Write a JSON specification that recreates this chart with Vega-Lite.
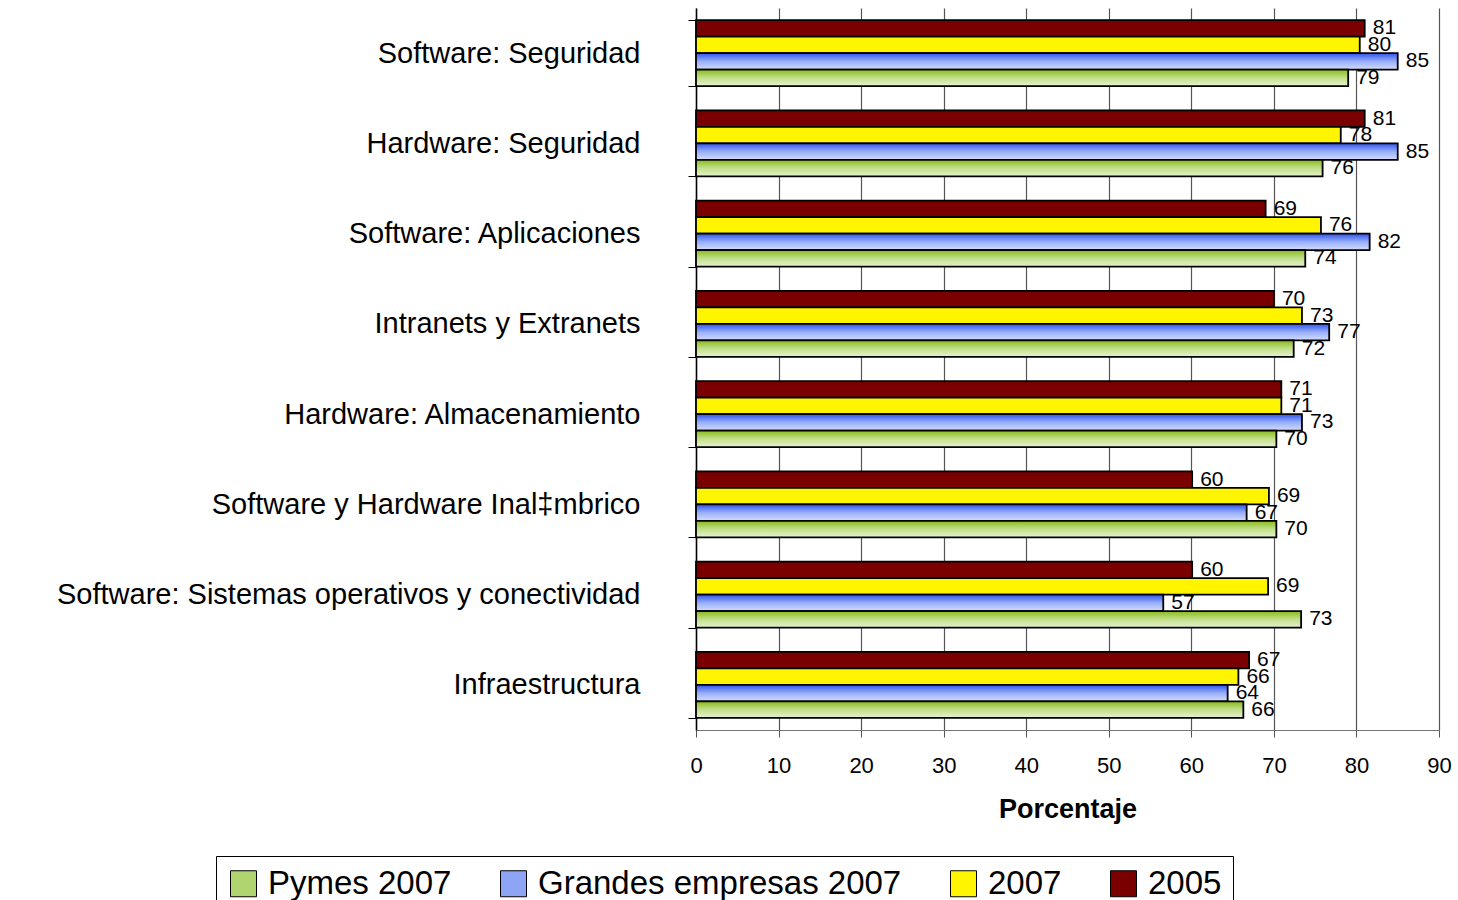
{
  "$schema": "https://vega.github.io/schema/vega-lite/v6.json",
  "width": 743,
  "height": 722,
  "autosize": "none",
  "padding": {"left": 696, "top": 8, "right": 19, "bottom": 170},
  "background": "white",
  "config": {
    "font": "Liberation Sans",
    "view": {"stroke": null},
    "axis": {"labelFont": "Liberation Sans", "titleFont": "Liberation Sans", "labelColor": "black", "titleColor": "black"}
  },
  "data": {
    "values": [
      {"cat": "Software: Seguridad", "serie": "2005", "value": 81.0, "label": "81"},
      {"cat": "Software: Seguridad", "serie": "2007", "value": 80.4, "label": "80"},
      {"cat": "Software: Seguridad", "serie": "Grandes empresas 2007", "value": 85.0, "label": "85"},
      {"cat": "Software: Seguridad", "serie": "Pymes 2007", "value": 79.0, "label": "79"},
      {"cat": "Hardware: Seguridad", "serie": "2005", "value": 81.0, "label": "81"},
      {"cat": "Hardware: Seguridad", "serie": "2007", "value": 78.1, "label": "78"},
      {"cat": "Hardware: Seguridad", "serie": "Grandes empresas 2007", "value": 85.0, "label": "85"},
      {"cat": "Hardware: Seguridad", "serie": "Pymes 2007", "value": 75.9, "label": "76"},
      {"cat": "Software: Aplicaciones", "serie": "2005", "value": 69.0, "label": "69"},
      {"cat": "Software: Aplicaciones", "serie": "2007", "value": 75.7, "label": "76"},
      {"cat": "Software: Aplicaciones", "serie": "Grandes empresas 2007", "value": 81.6, "label": "82"},
      {"cat": "Software: Aplicaciones", "serie": "Pymes 2007", "value": 73.8, "label": "74"},
      {"cat": "Intranets y Extranets", "serie": "2005", "value": 70.0, "label": "70"},
      {"cat": "Intranets y Extranets", "serie": "2007", "value": 73.4, "label": "73"},
      {"cat": "Intranets y Extranets", "serie": "Grandes empresas 2007", "value": 76.7, "label": "77"},
      {"cat": "Intranets y Extranets", "serie": "Pymes 2007", "value": 72.4, "label": "72"},
      {"cat": "Hardware: Almacenamiento", "serie": "2005", "value": 70.9, "label": "71"},
      {"cat": "Hardware: Almacenamiento", "serie": "2007", "value": 70.9, "label": "71"},
      {"cat": "Hardware: Almacenamiento", "serie": "Grandes empresas 2007", "value": 73.4, "label": "73"},
      {"cat": "Hardware: Almacenamiento", "serie": "Pymes 2007", "value": 70.3, "label": "70"},
      {"cat": "Software y Hardware Inal‡mbrico", "serie": "2005", "value": 60.1, "label": "60"},
      {"cat": "Software y Hardware Inal‡mbrico", "serie": "2007", "value": 69.4, "label": "69"},
      {"cat": "Software y Hardware Inal‡mbrico", "serie": "Grandes empresas 2007", "value": 66.7, "label": "67"},
      {"cat": "Software y Hardware Inal‡mbrico", "serie": "Pymes 2007", "value": 70.3, "label": "70"},
      {"cat": "Software: Sistemas operativos y conectividad", "serie": "2005", "value": 60.1, "label": "60"},
      {"cat": "Software: Sistemas operativos y conectividad", "serie": "2007", "value": 69.3, "label": "69"},
      {"cat": "Software: Sistemas operativos y conectividad", "serie": "Grandes empresas 2007", "value": 56.6, "label": "57"},
      {"cat": "Software: Sistemas operativos y conectividad", "serie": "Pymes 2007", "value": 73.3, "label": "73"},
      {"cat": "Infraestructura", "serie": "2005", "value": 67.0, "label": "67"},
      {"cat": "Infraestructura", "serie": "2007", "value": 65.7, "label": "66"},
      {"cat": "Infraestructura", "serie": "Grandes empresas 2007", "value": 64.4, "label": "64"},
      {"cat": "Infraestructura", "serie": "Pymes 2007", "value": 66.3, "label": "66"}
    ]
  },
  "encoding": {
    "y": {
      "field": "cat",
      "type": "nominal",
      "sort": null,
      "scale": {"paddingInner": 0.27, "paddingOuter": 0.135},
      "axis": {
        "title": null,
        "tickBand": "extent",
        "tickSize": 8,
        "tickColor": "black",
        "tickWidth": 1,
        "domainColor": "black",
        "domainWidth": 1.5,
        "labelFontSize": 29,
        "labelPadding": 48,
        "labelLimit": 800,
        "grid": false
      }
    },
    "yOffset": {
      "field": "serie",
      "type": "nominal",
      "sort": ["2005", "2007", "Grandes empresas 2007", "Pymes 2007"],
      "scale": {"domain": ["2005", "2007", "Grandes empresas 2007", "Pymes 2007"], "paddingInner": 0, "paddingOuter": 0}
    },
    "x": {
      "field": "value",
      "type": "quantitative",
      "scale": {"domain": [0, 90], "nice": false},
      "axis": {
        "title": "Porcentaje",
        "titleFontSize": 27,
        "titleFontWeight": "bold",
        "titlePadding": 20,
        "values": [0, 10, 20, 30, 40, 50, 60, 70, 80, 90],
        "labelFontSize": 22,
        "labelPadding": 18,
        "labelFlush": false,
        "tickSize": 7,
        "tickColor": "#555555",
        "domainColor": "#777777",
        "grid": true,
        "gridColor": "#555555",
        "gridWidth": 1.2
      }
    }
  },
  "layer": [
    {
      "mark": {"type": "bar", "stroke": "black", "strokeWidth": 1.8},
      "encoding": {
        "color": {
          "field": "serie",
          "type": "nominal",
          "condition": [
            {"test": "datum.serie === 'Pymes 2007'", "value": {"gradient": "linear", "x1": 0, "y1": 0, "x2": 0, "y2": 1, "stops": [{"offset": 0, "color": "#88bb1a"}, {"offset": 0.5, "color": "#c2df8a"}, {"offset": 1, "color": "#e6f3cf"}]}},
            {"test": "datum.serie === 'Grandes empresas 2007'", "value": {"gradient": "linear", "x1": 0, "y1": 0, "x2": 0, "y2": 1, "stops": [{"offset": 0, "color": "#2f55ee"}, {"offset": 0.5, "color": "#98aef8"}, {"offset": 1, "color": "#d3ddff"}]}}
          ],
          "scale": {
            "domain": ["Pymes 2007", "Grandes empresas 2007", "2007", "2005"],
            "range": ["#b0d470", "#8ea5f5", "#fff500", "#7a0000"]
          },
          "legend": {
            "title": null,
            "orient": "none",
            "legendX": -480,
            "legendY": 848,
            "direction": "horizontal",
            "columns": 4,
            "columnPadding": 45,
            "labelFontSize": 33,
            "labelFont": "Liberation Sans",
            "labelColor": "black",
            "labelLimit": 600,
            "labelOffset": 8,
            "symbolType": "square",
            "symbolSize": 676,
            "symbolStrokeColor": "black",
            "symbolStrokeWidth": 1,
            "strokeColor": "black",
            "padding": 11,
            "encode": {
              "symbols": {
                "update": {
                  "stroke": {"value": "black"},
                  "strokeWidth": {"value": 1},
                  "fill": {"signal": "datum.value === 'Pymes 2007' ? {gradient: 'linear', x1: 0, y1: 0, x2: 0, y2: 1, stops: [{offset: 0, color: '#88bb1a'}, {offset: 1, color: '#e6f3cf'}]} : datum.value === 'Grandes empresas 2007' ? {gradient: 'linear', x1: 0, y1: 0, x2: 0, y2: 1, stops: [{offset: 0, color: '#2f55ee'}, {offset: 1, color: '#d3ddff'}]} : scale('color', datum.value)"}
                }
              }
            }
          }
        }
      }
    },
    {
      "mark": {"type": "text", "align": "left", "baseline": "middle", "dx": 8, "fontSize": 21, "color": "black"},
      "encoding": {
        "text": {"field": "label", "type": "nominal"}
      }
    }
  ]
}
